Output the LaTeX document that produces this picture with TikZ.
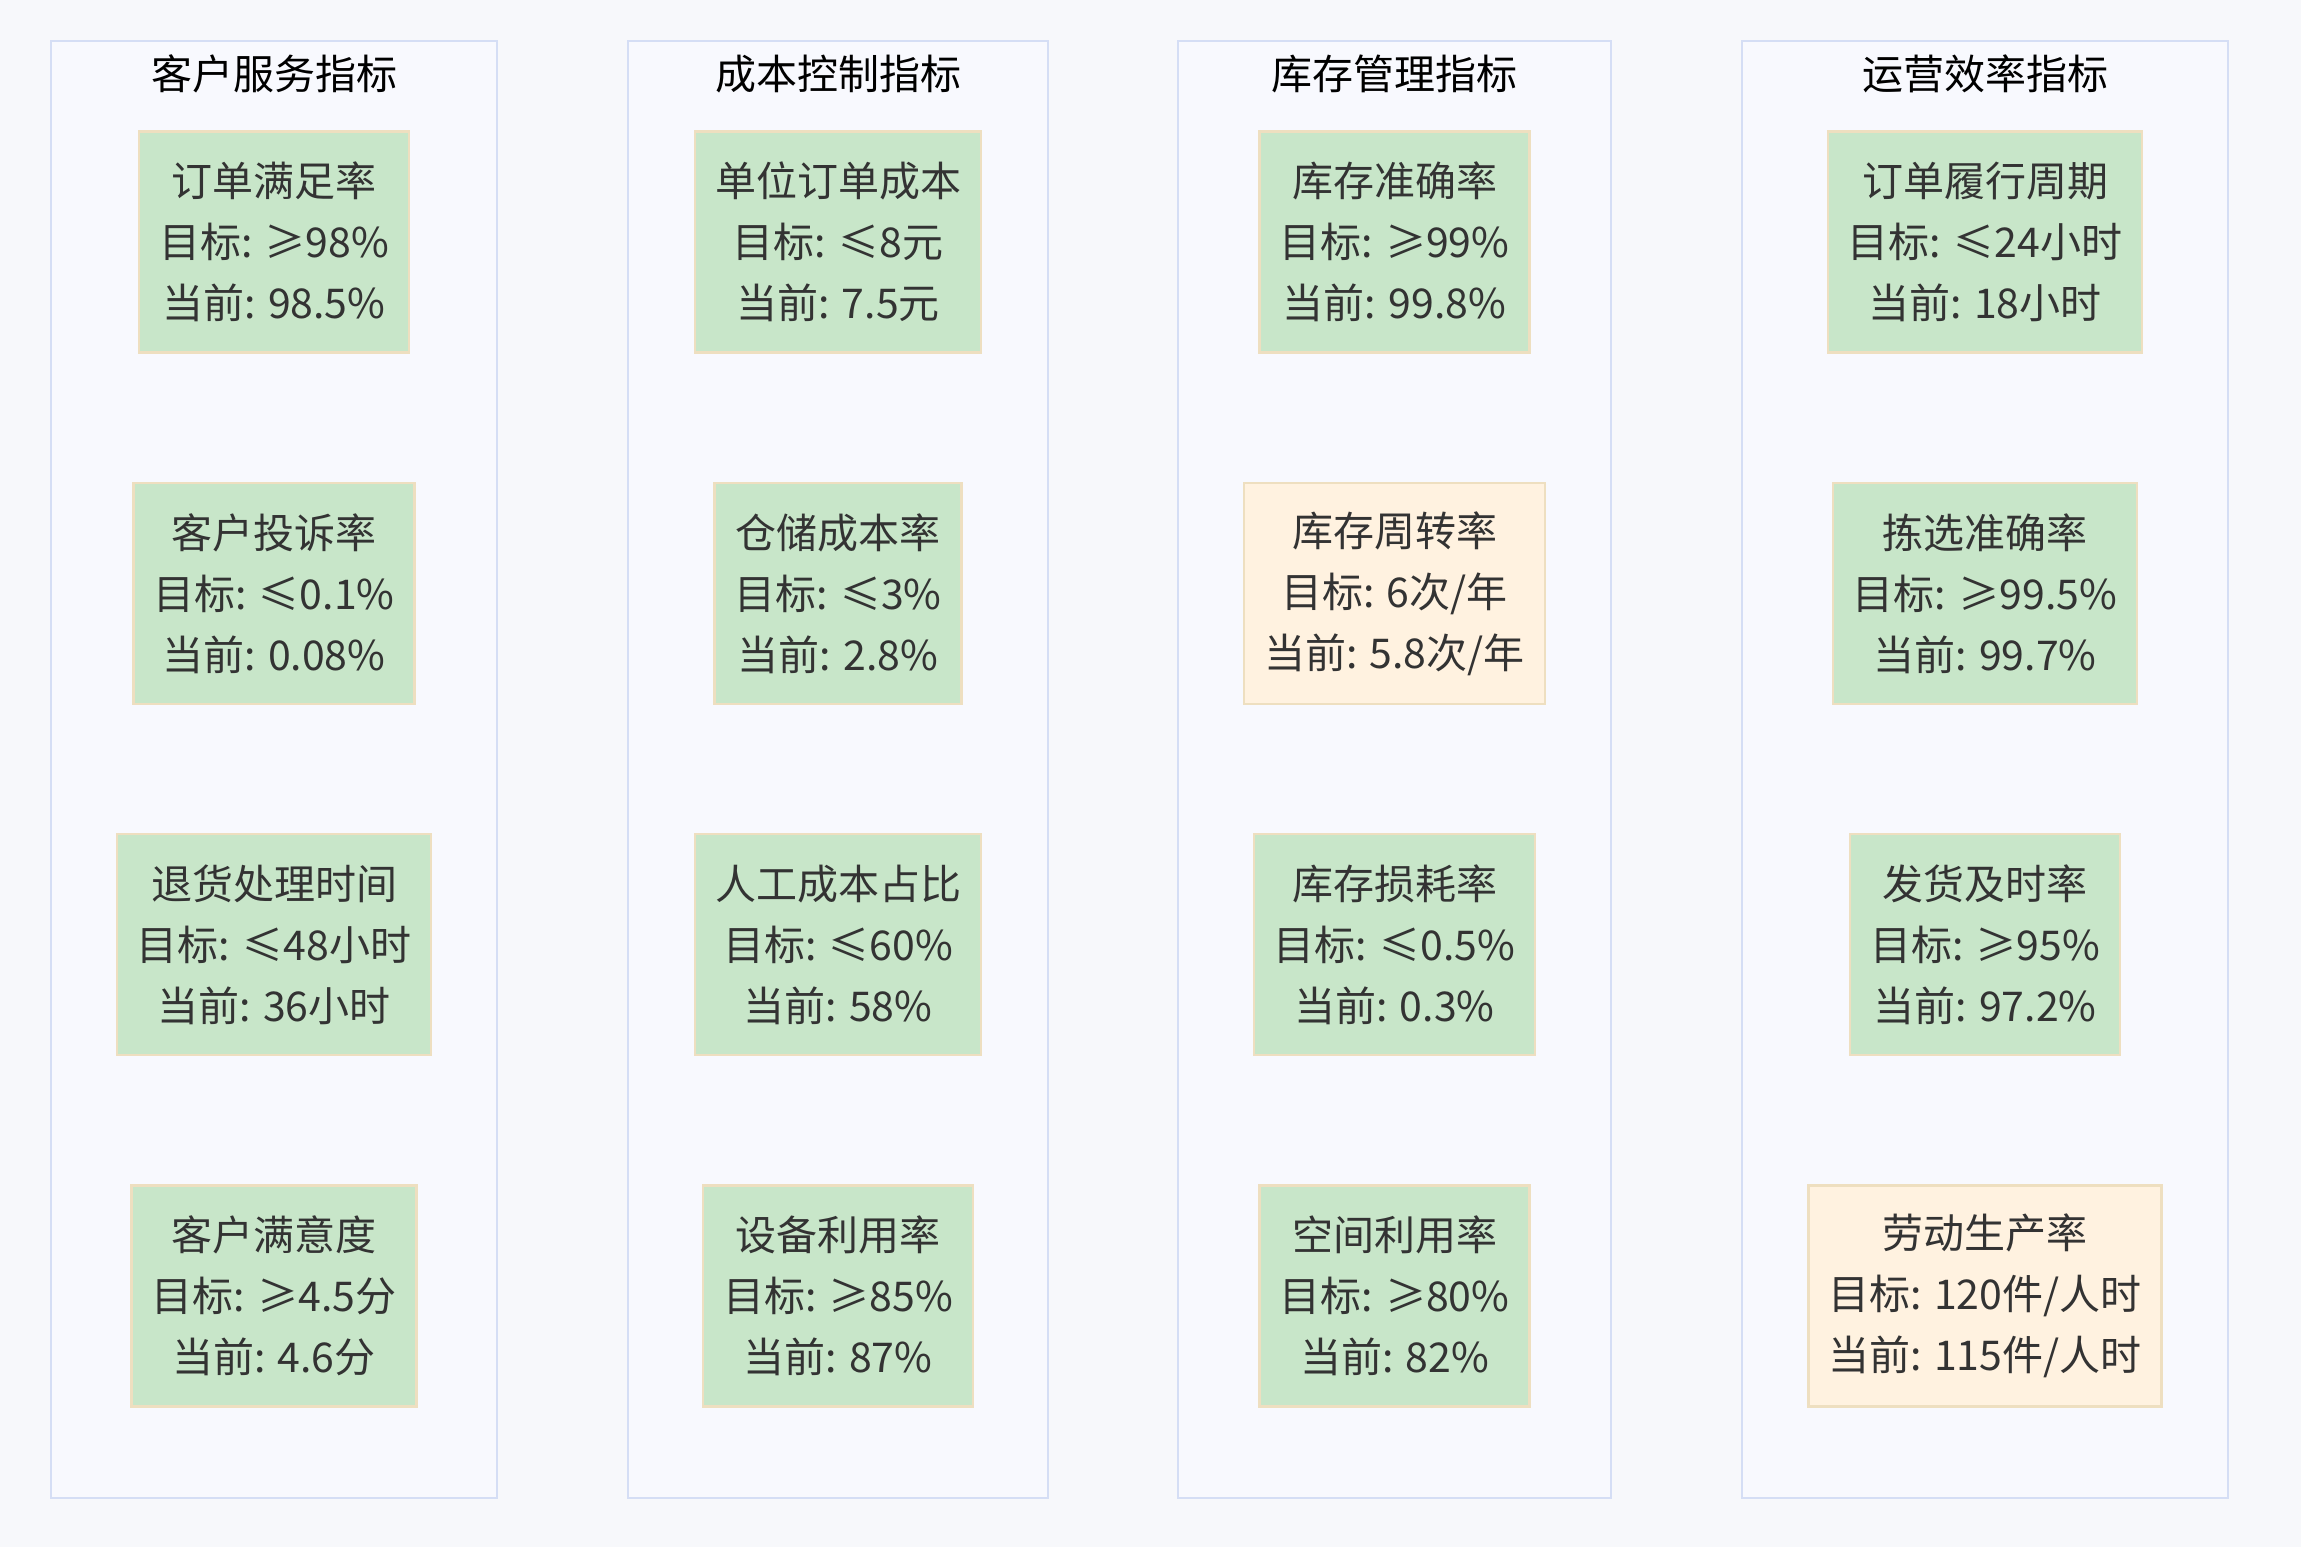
\documentclass[tikz,border=0pt]{standalone}
\usepackage{fontspec}
\setmainfont{Noto Sans CJK SC}
\definecolor{pagebg}{HTML}{F7F8FB}
\definecolor{panelfill}{HTML}{F8F9FE}
\definecolor{panelline}{HTML}{D5DEF5}
\definecolor{okfill}{HTML}{C8E6C9}
\definecolor{warnfill}{HTML}{FFF2E0}
\definecolor{cardline}{HTML}{EEDFC0}
\definecolor{cardtext}{HTML}{333333}
\tikzstyle{panel}=[draw=panelline,line width=2.5pt,fill=panelfill,minimum height=1457pt,inner sep=0pt]
\tikzstyle{paneltitle}=[font=\fontsize{41}{61}\selectfont,text=black,inner sep=0pt]
\tikzstyle{cardok}=[draw=cardline,line width=2.5pt,fill=okfill,text=cardtext,align=center,minimum height=221pt,inner xsep=20pt,font=\fontsize{41}{61}\selectfont]
\tikzstyle{cardwarn}=[cardok,fill=warnfill]

\begin{document}
\begin{tikzpicture}[x=1pt,y=1pt]
    \useasboundingbox[fill=pagebg] (0,0) rectangle (2301,-1547);
    % panels
    \node[panel,minimum width=446pt] (p1) at (274,-769.5) {};
    \node[panel,minimum width=420pt] (p2) at (838,-769.5) {};
    \node[panel,minimum width=433pt] (p3) at (1394.5,-769.5) {};
    \node[panel,minimum width=486pt] (p4) at (1985,-769.5) {};
    \node[paneltitle] (t1) at (274,-74) {客户服务指标};
    \node[paneltitle] (t2) at (838,-74) {成本控制指标};
    \node[paneltitle] (t3) at (1394.5,-74) {库存管理指标};
    \node[paneltitle] (t4) at (1985,-74) {运营效率指标};

    % customer service
    \node[cardok] (c11) at (274,-242)    {订单满足率\\目标: ≥98\%\\当前: 98.5\%};
    \node[cardok] (c12) at (274,-593.5)  {客户投诉率\\目标: ≤0.1\%\\当前: 0.08\%};
    \node[cardok] (c13) at (274,-944.5)  {退货处理时间\\目标: ≤48小时\\当前: 36小时};
    \node[cardok] (c14) at (274,-1296)   {客户满意度\\目标: ≥4.5分\\当前: 4.6分};

    % cost control
    \node[cardok] (c21) at (838,-242)    {单位订单成本\\目标: ≤8元\\当前: 7.5元};
    \node[cardok] (c22) at (838,-593.5)  {仓储成本率\\目标: ≤3\%\\当前: 2.8\%};
    \node[cardok] (c23) at (838,-944.5)  {人工成本占比\\目标: ≤60\%\\当前: 58\%};
    \node[cardok] (c24) at (838,-1296)   {设备利用率\\目标: ≥85\%\\当前: 87\%};

    % inventory
    \node[cardok] (c31) at (1394.5,-242)   {库存准确率\\目标: ≥99\%\\当前: 99.8\%};
    \node[cardwarn] (c32) at (1394.5,-593.5) {库存周转率\\目标: 6次/年\\当前: 5.8次/年};
    \node[cardok] (c33) at (1394.5,-944.5) {库存损耗率\\目标: ≤0.5\%\\当前: 0.3\%};
    \node[cardok] (c34) at (1394.5,-1296)  {空间利用率\\目标: ≥80\%\\当前: 82\%};

    % operations
    \node[cardok] (c41) at (1985,-242)    {订单履行周期\\目标: ≤24小时\\当前: 18小时};
    \node[cardok] (c42) at (1985,-593.5)  {拣选准确率\\目标: ≥99.5\%\\当前: 99.7\%};
    \node[cardok] (c43) at (1985,-944.5)  {发货及时率\\目标: ≥95\%\\当前: 97.2\%};
    \node[cardwarn] (c44) at (1985,-1296) {劳动生产率\\目标: 120件/人时\\当前: 115件/人时};
\end{tikzpicture}
\end{document}
